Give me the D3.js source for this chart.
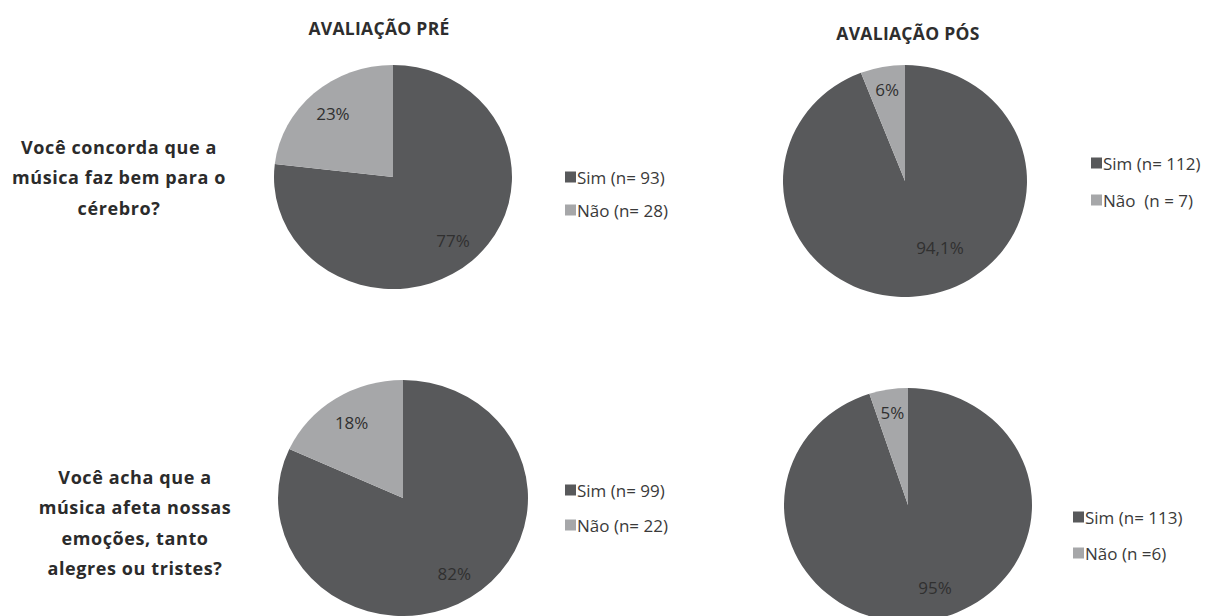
<!DOCTYPE html>
<html>
<head>
<meta charset="utf-8">
<script src="https://cdn.jsdelivr.net/npm/d3@7"></script>
<style>
  body { margin: 0; background: #fff; }
  svg { display: block; }
  text { white-space: pre; }
</style>
</head>
<body>
<div id="chart"></div>
<script>
var width = 1209,
    height = 616;

// data
var phases = ["AVALIAÇÃO PRÉ", "AVALIAÇÃO PÓS"];
var questions = [
  ["Você concorda que a", "música faz bem para o", "cérebro?"],
  ["Você acha que a", "música afeta nossas", "emoções, tanto", "alegres ou tristes?"]
];
var categories = ["Sim", "Não"];
var countsPreQ1 = [93, 28];
var countsPosQ1 = [112, 7];
var countsPreQ2 = [99, 22];
var countsPosQ2 = [113, 6];
var pctPreQ1 = ["77%", "23%"];
var pctPosQ1 = ["94,1%", "6%"];
var pctPreQ2 = ["82%", "18%"];
var pctPosQ2 = ["95%", "5%"];
var legendPreQ1 = ["Sim (n= 93)", "Não (n= 28)"];
var legendPosQ1 = ["Sim (n= 112)", "Não  (n = 7)"];
var legendPreQ2 = ["Sim (n= 99)", "Não (n= 22)"];
var legendPosQ2 = ["Sim (n= 113)", "Não (n =6)"];

// layout
var panels = [
  {counts: countsPreQ1, pct: pctPreQ1, legend: legendPreQ1, cx: 393, cy: 177, rx: 119, ry: 112, lx: 565, ly: [177, 210], labelShift: [0, 0], labelK: [0.76, 0.76]},
  {counts: countsPosQ1, pct: pctPosQ1, legend: legendPosQ1, cx: 905, cy: 181, rx: 122, ry: 116, lx: 1091, ly: [163, 200], labelShift: [-16, 0], labelK: [0.64, 0.8]},
  {counts: countsPreQ2, pct: pctPreQ2, legend: legendPreQ2, cx: 403, cy: 498, rx: 125, ry: 118, lx: 565, ly: [490, 525], labelShift: [0, 0], labelK: [0.76, 0.76]},
  {counts: countsPosQ2, pct: pctPosQ2, legend: legendPosQ2, cx: 908, cy: 505, rx: 124, ry: 117, lx: 1073, ly: [517, 553], labelShift: [-8, 0], labelK: [0.74, 0.8]}
];
var titlePos = [{x: 379, y: 28}, {x: 908, y: 33}];
var questionPos = [{x: 119, y: 147}, {x: 135, y: 477}];
var lineH = 30.3;

var color = d3.scaleOrdinal()
    .domain(categories)
    .range(["#58595b", "#a6a7a9"]);

var svg = d3.select("#chart").append("svg")
    .attr("width", width)
    .attr("height", height);

// column titles
svg.selectAll(".title")
  .data(phases)
  .enter().append("text")
    .attr("class", "title")
    .attr("x", function(d, i) { return titlePos[i].x; })
    .attr("y", function(d, i) { return titlePos[i].y; })
    .attr("text-anchor", "middle")
    .attr("dominant-baseline", "central")
    .attr("font-family", "Open Sans")
    .attr("font-weight", "bold")
    .attr("font-size", 17.5)
    .attr("letter-spacing", 0.3)
    .attr("fill", "#2e2e2e")
    .text(function(d) { return d; });

// questions
questions.forEach(function(lines, qi) {
  svg.append("g")
    .selectAll("text")
    .data(lines)
    .enter().append("text")
      .attr("x", questionPos[qi].x)
      .attr("y", function(d, i) { return questionPos[qi].y + i * lineH; })
      .attr("text-anchor", "middle")
      .attr("dominant-baseline", "central")
      .attr("font-family", "Open Sans")
      .attr("font-weight", "bold")
      .attr("font-size", 18)
      .attr("letter-spacing", 0.6)
      .attr("fill", "#2b2b2b")
      .text(function(d) { return d; });
});

var pie = d3.pie().sort(null);

panels.forEach(function(p) {
  var arcs = pie(p.counts);
  var arc = d3.arc().innerRadius(0).outerRadius(p.rx);

  var g = svg.append("g")
      .attr("transform", "translate(" + p.cx + "," + p.cy + ")");

  g.append("g")
      .attr("transform", "scale(1," + (p.ry / p.rx) + ")")
    .selectAll("path")
    .data(arcs)
    .enter().append("path")
      .attr("d", arc)
      .attr("fill", function(d, i) { return color(categories[i]); });

  g.selectAll(".pct")
    .data(arcs)
    .enter().append("text")
      .attr("class", "pct")
      .attr("x", function(d, i) {
        var a = (d.startAngle + d.endAngle) / 2 + p.labelShift[i] * Math.PI / 180;
        return Math.sin(a) * p.rx * p.labelK[i];
      })
      .attr("y", function(d, i) {
        var a = (d.startAngle + d.endAngle) / 2 + p.labelShift[i] * Math.PI / 180;
        return -Math.cos(a) * p.ry * p.labelK[i];
      })
      .attr("text-anchor", "middle")
      .attr("dominant-baseline", "central")
      .attr("font-family", "Open Sans")
      .attr("font-size", 17)
      .attr("fill", "#303030")
      .text(function(d, i) { return p.pct[i]; });

  var legend = svg.append("g")
    .selectAll("g")
    .data(p.legend)
    .enter().append("g")
      .attr("transform", function(d, i) { return "translate(" + p.lx + "," + p.ly[i] + ")"; });

  legend.append("rect")
      .attr("x", 0)
      .attr("y", -5.5)
      .attr("width", 11)
      .attr("height", 11)
      .attr("fill", function(d, i) { return color(categories[i]); });

  legend.append("text")
      .attr("x", 12)
      .attr("y", 0)
      .attr("dominant-baseline", "central")
      .attr("font-family", "Open Sans")
      .attr("font-size", 17)
      .attr("fill", "#3a3a3a")
      .text(function(d) { return d; });
});
</script>
</body>
</html>
